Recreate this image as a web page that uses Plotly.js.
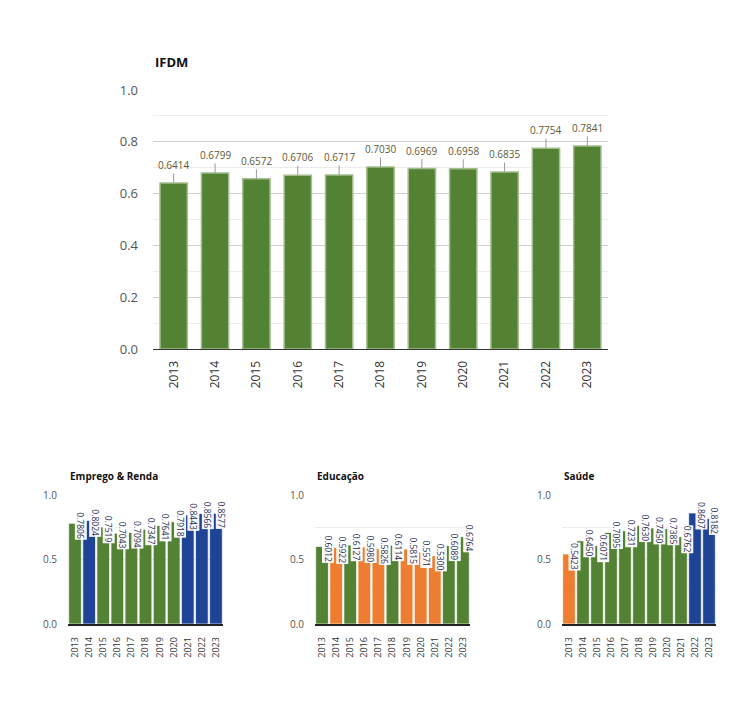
<!DOCTYPE html>
<html><head><meta charset="utf-8">
<script src="https://cdn.plot.ly/plotly-3.0.1.min.js"></script>
<style>html,body{margin:0;padding:0;background:#fff}#chart{width:747px;height:720px}</style>
</head><body><div id="chart"></div>
<script>
const years = ['2013','2014','2015','2016','2017','2018','2019','2020','2021','2022','2023'];
const ifdm = [0.6414,0.6799,0.6572,0.6706,0.6717,0.7030,0.6969,0.6958,0.6835,0.7754,0.7841];
const emprego = [0.7806,0.8024,0.7519,0.7043,0.7094,0.7347,0.7641,0.7918,0.8443,0.8566,0.8577];
const educacao = [0.6012,0.5922,0.6127,0.5980,0.5826,0.6114,0.5815,0.5571,0.5300,0.6089,0.6764];
const saude = [0.5423,0.6450,0.6071,0.7095,0.7231,0.7630,0.7450,0.7385,0.6762,0.8607,0.8182];
const titles = ['IFDM','Emprego & Renda','Educação','Saúde'];

const GREEN='#548235', BLUE='#1f4496', ORANGE='#ed7d31';
function lvl(v){ return v>0.8?BLUE:(v>=0.6?GREEN:ORANGE); }
const FONT='Open Sans, Lato, sans-serif';
const W=747,H=720;
function px(x){return x/W;} function py(y){return 1-y/H;}
const XR=[-0.5, years.length-0.5];

const traces=[{
  type:'bar', x:years, y:ifdm, xaxis:'x', yaxis:'y', width:0.66,
  marker:{color:GREEN, line:{color:'#a3bd8c', width:1.5}}, hoverinfo:'x+y'
}];
const small=[emprego,educacao,saude];
small.forEach((arr,i)=>{
  traces.push({type:'bar', x:years, y:arr, xaxis:'x'+(i+2), yaxis:'y'+(i+2), width:0.9,
    marker:{color:arr.map(lvl), line:{color:'rgba(255,255,255,0.7)', width:1}}, hoverinfo:'x+y'});
});

const layout={
  width:W,height:H,margin:{l:0,r:0,t:0,b:0},showlegend:false,
  paper_bgcolor:'#fff',plot_bgcolor:'#fff',
  font:{family:FONT,color:'#444'},
  annotations:[], shapes:[]
};
layout.xaxis={domain:[px(153),px(608)],anchor:'y',type:'category',range:XR,tickangle:-90,
  tickfont:{size:12,color:'#333'},showgrid:false,showline:true,linecolor:'#333',linewidth:1,
  ticks:'',ticklabelstandoff:6,fixedrange:true};
layout.yaxis={domain:[py(349),py(90)],anchor:'x',range:[0,1],dtick:0.2,tickformat:'.1f',
  tickfont:{size:13,color:'#555'},gridcolor:'#cfcfcf',gridwidth:1,zeroline:false,
  minor:{dtick:0.1,showgrid:true,gridcolor:'#ececec',gridwidth:1},ticklabelstandoff:14,fixedrange:true};
const smallX=[[68,223],[315,470],[562,716]];
smallX.forEach((d,i)=>{
  const n=i+2;
  layout['xaxis'+n]={domain:[px(d[0]),px(d[1])],anchor:'y'+n,type:'category',range:XR,tickangle:-90,
    tickfont:{size:9,color:'#333'},showgrid:false,showline:true,linecolor:'#222',linewidth:1.5,
    ticks:'',ticklabelstandoff:8,fixedrange:true};
  layout['yaxis'+n]={domain:[py(624),py(495)],anchor:'x'+n,range:[0,1],dtick:0.5,tickformat:'.1f',
    tickfont:{size:10,color:'#555'},gridcolor:'#cfcfcf',zeroline:false,
    minor:{dtick:0.25,showgrid:true,gridcolor:'#ececec'},ticklabelstandoff:10,fixedrange:true};
});
ifdm.forEach((v,k)=>{
  layout.annotations.push({x:k,y:v,xref:'x',yref:'y',text:v.toFixed(4),
    showarrow:true,arrowhead:0,arrowwidth:1,arrowcolor:'#9a9a9a',ax:0,ay:-18,standoff:0,
    font:{size:10,color:'#5b5a36',family:FONT}});
});
small.forEach((arr,i)=>{
  const n=i+2;
  arr.forEach((v,k)=>{
    layout.annotations.push({x:k,y:v,xref:'x'+n,yref:'y'+n,text:v.toFixed(4),
      showarrow:false,textangle:90,xshift:6,yshift:-2,yanchor:'middle',xanchor:'center',
      bgcolor:'rgba(255,255,255,0.95)',borderpad:0,
      font:{size:8.5,color:'#1f2d55',family:FONT}});
  });
});
const tpos=[[153,62,13],[68,476,10],[315,476,10],[562,476,10]];
titles.forEach((t,i)=>{
  layout.annotations.push({x:px(tpos[i][0]),y:py(tpos[i][1]),xref:'paper',yref:'paper',
    xanchor:'left',yanchor:'middle',showarrow:false,text:'<b>'+t+'</b>',
    font:{size:tpos[i][2],color:'#111',family:FONT}});
});
Plotly.newPlot('chart',traces,layout,{displayModeBar:false,staticPlot:true});
</script></body></html>
